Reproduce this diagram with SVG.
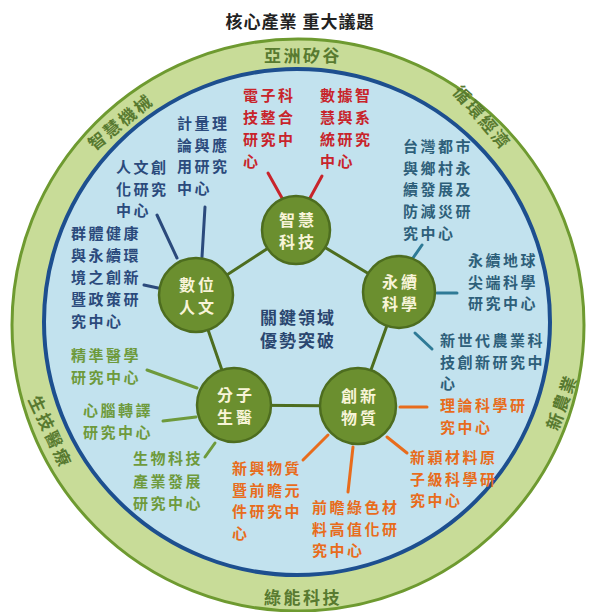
<svg xmlns="http://www.w3.org/2000/svg" width="589" height="612" viewBox="0 0 589 612">
<style>
text{font-family:"Noto Sans CJK TC","Noto Sans CJK SC",sans-serif;font-weight:700}
.t{font-size:15px;letter-spacing:2.5px}
.ring{font-size:17px;fill:#587a30;letter-spacing:2.5px;text-anchor:middle}
.nd{fill:#6b8f2f;stroke:#4d6d1f;stroke-width:2.5}
.nt{font-size:16px;fill:#f8f4d8;text-anchor:middle;letter-spacing:3px}
.red{fill:#c8242b}.navy{fill:#2b4a7c}.teal{fill:#2e5f7a}.grn{fill:#6e9a3c}.org{fill:#e86c1c}
.sr{stroke:#c8242b}.sn{stroke:#2b4a7c}.st{stroke:#2e7a96}.sg{stroke:#6e9a3c}.so{stroke:#e86c1c}.sp{stroke:#4d6d1f}
#connectors line{stroke-width:3;stroke-linecap:round}
</style>
<rect width="589" height="612" fill="#ffffff"/>
<text x="300" y="28" font-size="17" fill="#222" text-anchor="middle" letter-spacing="1">核心產業 重大議題</text>
<g id="ring">
<circle cx="298" cy="325" r="286" fill="#c8dc98" stroke="#6e9a30" stroke-width="3"/>
<circle cx="297" cy="322" r="253" fill="#c2e2ee" stroke="#1d4f8f" stroke-width="4"/>
<text class="ring" x="303" y="62">亞洲矽谷</text>
<text class="ring" x="303" y="604">綠能科技</text>
<text class="ring" transform="translate(121,122) rotate(-39)" y="6">智慧機械</text>
<text class="ring" transform="translate(482,118) rotate(49)" y="6">循環經濟</text>
<text class="ring" transform="translate(50,432) rotate(65)" y="6">生技醫療</text>
<text class="ring" transform="translate(562,402) rotate(-70)" y="6">新農業</text>
</g>
<g id="connectors">
<line class="sp" x1="296" y1="230" x2="399" y2="292"/>
<line class="sp" x1="399" y1="292" x2="358" y2="406"/>
<line class="sp" x1="358" y1="406" x2="234" y2="405"/>
<line class="sp" x1="234" y1="405" x2="196" y2="295"/>
<line class="sp" x1="196" y1="295" x2="296" y2="230"/>
<line class="sr" x1="268" y1="173" x2="282" y2="198"/>
<line class="sr" x1="322" y1="176" x2="310" y2="198"/>
<line class="sn" x1="157" y1="215" x2="177" y2="258"/>
<line class="sn" x1="205" y1="207" x2="202" y2="257"/>
<line class="sn" x1="144" y1="285" x2="158" y2="288"/>
<line class="st" x1="422" y1="245" x2="413" y2="258"/>
<line class="st" x1="437" y1="293" x2="457" y2="293"/>
<line class="st" x1="415" y1="333" x2="432" y2="349"/>
<line class="sg" x1="147" y1="370" x2="197" y2="388"/>
<line class="sg" x1="163" y1="421" x2="196" y2="417"/>
<line class="sg" x1="205" y1="457" x2="215" y2="443"/>
<line class="so" x1="400" y1="407" x2="427" y2="407"/>
<line class="so" x1="387" y1="437" x2="407" y2="453"/>
<line class="so" x1="328" y1="435" x2="303" y2="460"/>
<line class="so" x1="353" y1="447" x2="348" y2="492"/>
</g>
<g id="n-zhihui"><circle class="nd" cx="296" cy="230" r="34"/><text class="nt" x="298" y="226">智慧</text><text class="nt" x="298" y="248">科技</text></g>
<g id="n-shuwei"><circle class="nd" cx="196" cy="295" r="37"/><text class="nt" x="198" y="291">數位</text><text class="nt" x="198" y="313">人文</text></g>
<g id="n-yongxu"><circle class="nd" cx="399" cy="292" r="36"/><text class="nt" x="401" y="288">永續</text><text class="nt" x="401" y="310">科學</text></g>
<g id="n-chuangxin"><circle class="nd" cx="358" cy="406" r="38"/><text class="nt" x="360" y="402">創新</text><text class="nt" x="360" y="424">物質</text></g>
<g id="n-fenzi"><circle class="nd" cx="234" cy="405" r="37"/><text class="nt" x="236" y="401">分子</text><text class="nt" x="236" y="423">生醫</text></g>
<g id="center"><text x="298" y="324" font-size="17" fill="#2a4670" text-anchor="middle" letter-spacing="2">關鍵領域</text><text x="298" y="347" font-size="17" fill="#2a4670" text-anchor="middle" letter-spacing="2">優勢突破</text></g>
<g id="l-red1"><text class="t red" x="243" y="101">電子科<tspan x="243" dy="22">技整合</tspan><tspan x="243" dy="22">研究中</tspan><tspan x="243" dy="22">心</tspan></text></g>
<g id="l-red2"><text class="t red" x="320" y="101">數據智<tspan x="320" dy="22">慧與系</tspan><tspan x="320" dy="22">統研究</tspan><tspan x="320" dy="22">中心</tspan></text></g>
<g id="l-navy1"><text class="t navy" x="177" y="129">計量理<tspan x="177" dy="21.7">論與應</tspan><tspan x="177" dy="21.7">用研究</tspan><tspan x="177" dy="21.7">中心</tspan></text></g>
<g id="l-navy2"><text class="t navy" x="116" y="173">人文創<tspan x="116" dy="21.7">化研究</tspan><tspan x="116" dy="21.7">中心</tspan></text></g>
<g id="l-navy3"><text class="t navy" x="71" y="239">群體健康<tspan x="71" dy="22">與永續環</tspan><tspan x="71" dy="22">境之創新</tspan><tspan x="71" dy="22">暨政策研</tspan><tspan x="71" dy="22">究中心</tspan></text></g>
<g id="l-teal1"><text class="t teal" x="403" y="152">台灣都市<tspan x="403" dy="21.7">與鄉村永</tspan><tspan x="403" dy="21.7">續發展及</tspan><tspan x="403" dy="21.7">防減災研</tspan><tspan x="403" dy="21.7">究中心</tspan></text></g>
<g id="l-teal2"><text class="t teal" x="468" y="266">永續地球<tspan x="468" dy="21.7">尖端科學</tspan><tspan x="468" dy="21.7">研究中心</tspan></text></g>
<g id="l-teal3"><text class="t teal" x="440" y="346">新世代農業科<tspan x="440" dy="21.7">技創新研究中</tspan><tspan x="440" dy="21.7">心</tspan></text></g>
<g id="l-grn1"><text class="t grn" x="71" y="361">精準醫學<tspan x="71" dy="22">研究中心</tspan></text></g>
<g id="l-grn2"><text class="t grn" x="83" y="416">心腦轉譯<tspan x="83" dy="22">研究中心</tspan></text></g>
<g id="l-grn3"><text class="t grn" x="133" y="464">生物科技<tspan x="133" dy="22.5">產業發展</tspan><tspan x="133" dy="22.5">研究中心</tspan></text></g>
<g id="l-org1"><text class="t org" x="440" y="411">理論科學研<tspan x="440" dy="21.7">究中心</tspan></text></g>
<g id="l-org2"><text class="t org" x="410" y="463">新穎材料原<tspan x="410" dy="21.7">子級科學研</tspan><tspan x="410" dy="21.7">究中心</tspan></text></g>
<g id="l-org3"><text class="t org" x="232" y="474">新興物質<tspan x="232" dy="21.7">暨前瞻元</tspan><tspan x="232" dy="21.7">件研究中</tspan><tspan x="232" dy="21.7">心</tspan></text></g>
<g id="l-org4"><text class="t org" x="312" y="513">前瞻綠色材<tspan x="312" dy="21.7">料高值化研</tspan><tspan x="312" dy="21.7">究中心</tspan></text></g>
</svg>
